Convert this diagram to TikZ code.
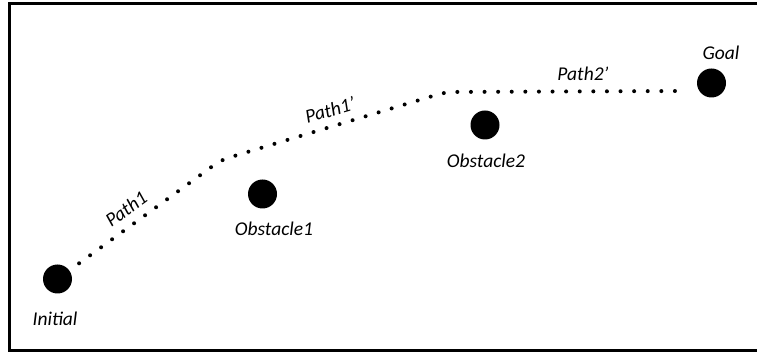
\documentclass[tikz,border=0pt]{standalone}
\usepackage{fontspec}
\setmainfont{Carlito}
\tikzset{
  spot/.style={circle, fill=black, inner sep=0pt, minimum size=29pt},
  lbl/.style={font=\fontsize{19.5}{22}\selectfont\itshape, inner sep=0pt},
  trail/.style={line width=4pt, line cap=round, dash pattern=on 0pt off 13.6pt, rounded corners=8pt}
}
\begin{document}
\begin{tikzpicture}[x=1pt, y=-1pt]

\useasboundingbox (0,0) rectangle (757,352);
\clip (0,0) rectangle (757,352);
\draw[line width=3pt] (9,3.7) rectangle (775,350.5);

\node[spot] (initial) at (57.5,279) {};
\node[spot] (obst1) at (262.5,194) {};
\node[spot] (obst2) at (485,125) {};
\node[spot] (goal) at (711.5,83) {};

\node[lbl] (initlbl) at (55,319) {Initial};
\node[lbl] (obst1lbl) at (274,229) {Obstacle1};
\node[lbl] (obst2lbl) at (486,161) {Obstacle2};
\node[lbl] (goallbl) at (721,53) {Goal};

\coordinate (bend1) at (221,160);
\coordinate (bend2) at (446,92);
\coordinate (trailend) at (681,91);
\draw[trail, shorten <=12pt] (initial) -- (bend1) -- (bend2) -- (trailend);

\node[lbl, rotate=36] (path1lbl) at (126,209) {Path1};
\node[lbl, rotate=16] (path1plbl) at (330,110) {Path1'};
\node[lbl] (path2plbl) at (583,74) {Path2'};
\end{tikzpicture}
\end{document}
